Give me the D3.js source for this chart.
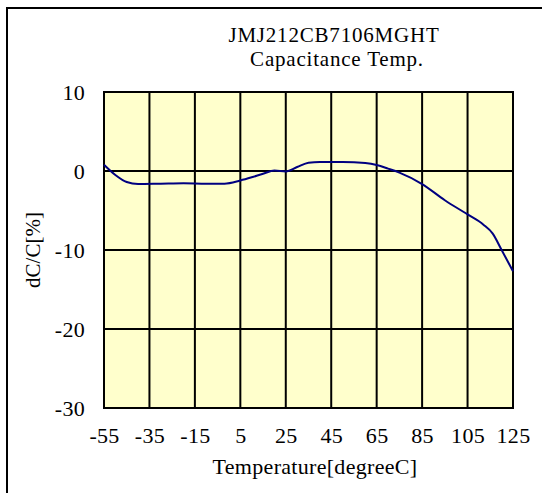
<!DOCTYPE html>
<html>
<head>
<meta charset="utf-8">
<script src="https://cdn.jsdelivr.net/npm/d3@7"></script>
<style>
  html, body { margin: 0; padding: 0; background: #fff; }
  svg { display: block; }
  text { font-family: "Liberation Serif", "Times New Roman", serif; fill: #000; }
</style>
</head>
<body>
<svg id="chart" width="542" height="493"></svg>
<script>
// ---- data ----
const temperatures = [-55, -50, -45, -40, -30, -20, -10, -2, 5, 10, 15, 20, 25, 30, 35, 40, 50, 60, 65, 70, 75, 85, 95, 105, 112, 116, 120, 125];
const dcValues =     [0.8, -0.5, -1.4, -1.65, -1.6, -1.55, -1.6, -1.6, -1.2, -0.8, -0.35, 0.05, -0.05, 0.5, 1.05, 1.15, 1.15, 1.0, 0.75, 0.3, -0.2, -1.65, -3.7, -5.5, -6.8, -7.9, -10.0, -12.7];
const xTicks = [-55, -35, -15, 5, 25, 45, 65, 85, 105, 125];
const yTicks = [10, 0, -10, -20, -30];
const titleLines = ["JMJ212CB7106MGHT", "Capacitance Temp."];
const xTitle = "Temperature[degreeC]";
const yTitle = "dC/C[%]";

// ---- layout ----
const plot = { left: 104, right: 513, top: 92, bottom: 408 };
const svg = d3.select("#chart");
const fontFamily = '"Liberation Serif", "Times New Roman", serif';
const fontSize = 22;
const spacing = "0.3px";

const x = d3.scaleLinear().domain([-55, 125]).range([plot.left, plot.right]);
const y = d3.scaleLinear().domain([-30, 10]).range([plot.bottom, plot.top]);

// outer frame
svg.append("rect")
  .attr("x", 7).attr("y", 8)
  .attr("width", 540).attr("height", 490)
  .attr("fill", "none").attr("stroke", "#000").attr("stroke-width", 2);

// plot background
svg.append("rect")
  .attr("x", plot.left).attr("y", plot.top)
  .attr("width", plot.right - plot.left).attr("height", plot.bottom - plot.top)
  .attr("fill", "#FFFFCC");

// grid
const grid = svg.append("g").attr("stroke", "#000").attr("stroke-width", 2);
grid.selectAll("line.v").data(xTicks).join("line")
  .attr("x1", d => x(d)).attr("x2", d => x(d))
  .attr("y1", plot.top).attr("y2", plot.bottom);
grid.selectAll("line.h").data(yTicks).join("line")
  .attr("y1", d => y(d)).attr("y2", d => y(d))
  .attr("x1", plot.left).attr("x2", plot.right);

// plot border
svg.append("rect")
  .attr("x", plot.left).attr("y", plot.top)
  .attr("width", plot.right - plot.left).attr("height", plot.bottom - plot.top)
  .attr("fill", "none").attr("stroke", "#000").attr("stroke-width", 2);

// curve
const pts = temperatures.map((t, i) => [t, dcValues[i]]);
const line = d3.line().x(d => x(d[0])).y(d => y(d[1])).curve(d3.curveMonotoneX);
svg.append("path")
  .datum(pts)
  .attr("d", line)
  .attr("fill", "none")
  .attr("stroke", "#000080")
  .attr("stroke-width", 2);

// axes (labels only, via d3 axes)
const fmt = d => String(d);
const xAxis = svg.append("g")
  .attr("transform", `translate(0,${plot.bottom})`)
  .call(d3.axisBottom(x).tickValues(xTicks).tickSize(0).tickPadding(19).tickFormat(fmt));
xAxis.select(".domain").remove();
xAxis.selectAll("text")
  .style("font-family", fontFamily)
  .style("font-size", fontSize + "px")
  .style("letter-spacing", spacing)
  .attr("fill", "#000");

const yAxis = svg.append("g")
  .attr("transform", `translate(${plot.left},0)`)
  .call(d3.axisLeft(y).tickValues(yTicks).tickSize(0).tickPadding(19).tickFormat(fmt));
yAxis.select(".domain").remove();
yAxis.selectAll("text")
  .style("font-family", fontFamily)
  .style("font-size", fontSize + "px")
  .style("letter-spacing", spacing)
  .attr("fill", "#000");

// titles
svg.append("text")
  .attr("x", 334).attr("y", 42)
  .attr("text-anchor", "middle")
  .style("font-size", "21px")
  .style("letter-spacing", "0.8px")
  .text(titleLines[0]);
svg.append("text")
  .attr("x", 337).attr("y", 66)
  .attr("text-anchor", "middle")
  .style("font-size", "21px")
  .style("letter-spacing", "0.8px")
  .text(titleLines[1]);

svg.append("text")
  .attr("x", 315).attr("y", 474)
  .attr("text-anchor", "middle")
  .style("font-size", fontSize + "px")
  .style("letter-spacing", spacing)
  .text(xTitle);

svg.append("text")
  .attr("transform", "translate(40,250) rotate(-90)")
  .attr("text-anchor", "middle")
  .style("font-size", "21px")
  .text(yTitle);
</script>
</body>
</html>
